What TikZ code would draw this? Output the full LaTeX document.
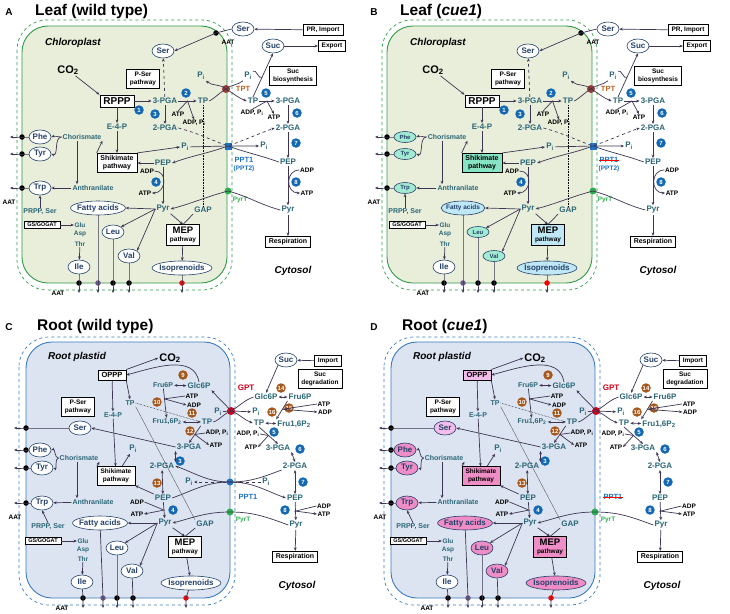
\documentclass[tikz,border=0pt]{standalone}
\usepackage{fontspec}
\setmainfont{Liberation Sans}
\usetikzlibrary{shapes.geometric,arrows.meta,calc}

\definecolor{arcol}{HTML}{3D3552}
\definecolor{metcol}{HTML}{2B6677}
\definecolor{navy}{HTML}{23406A}
\definecolor{leafgreen}{HTML}{2F9A48}
\definecolor{leaffill}{HTML}{E9EEDB}
\definecolor{rootblue}{HTML}{3A7BBF}
\definecolor{rootfill}{HTML}{DCE4F1}
\definecolor{enzblue}{HTML}{1268B3}
\definecolor{enzbrown}{HTML}{A4561B}
\definecolor{tptred}{HTML}{9B3A2E}
\definecolor{tptorange}{HTML}{C0611F}
\definecolor{gptred}{HTML}{D3001B}
\definecolor{pptblue}{HTML}{1F72C4}
\definecolor{pyrtgreen}{HTML}{2EB04F}
\definecolor{fapurple}{HTML}{6A5A8C}
\definecolor{mint}{HTML}{A3EAD3}
\definecolor{mintbox}{HTML}{86E3C4}
\definecolor{skyfill}{HTML}{BFE7F6}
\definecolor{pinkfill}{HTML}{EF8DC6}
\definecolor{palepink}{HTML}{F2BDEB}

\newif\ifpptlost

\tikzset{
  met/.style={font=\bfseries\fontsize{8}{9}\selectfont, text=metcol, inner sep=1pt},
  chorf/.style={font=\bfseries\fontsize{7}{8}\selectfont},
  small/.style={font=\bfseries\fontsize{6.5}{7}\selectfont, inner sep=0.5pt},
  co2/.style={font=\bfseries\fontsize{11}{12}\selectfont, inner sep=1pt},
  pbox/.style={draw=black, fill=white, line width=0.7pt, align=center,
    font=\bfseries\fontsize{6.5}{7.5}\selectfont, inner xsep=3.5pt, inner ysep=2.5pt},
  aa/.style={ellipse, draw=navy, fill=white, line width=0.6pt, text=navy,
    font=\bfseries\fontsize{8}{9}\selectfont, inner xsep=-1.5pt, inner ysep=0pt,
    minimum height=14pt, minimum width=22pt},
  enz/.style={circle, fill=enzblue, text=white, font=\bfseries\fontsize{6}{6}\selectfont,
    inner sep=0pt, minimum size=9.5pt},
  enzb/.style={enz, fill=enzbrown},
  jdot/.style={circle, fill=black, inner sep=0pt, minimum size=5.5pt},
  ar/.style={-{Stealth[length=3.4pt,width=2.8pt]}, draw=arcol, line width=0.7pt},
  dar/.style={{Stealth[length=3.4pt,width=2.8pt]}-{Stealth[length=3.4pt,width=2.8pt]},
    draw=arcol, line width=0.7pt},
  comp/.style={font=\bfseries\itshape\fontsize{10}{11}\selectfont},
  ttl/.style={font=\bfseries\fontsize{15.5}{17}\selectfont, anchor=base west, inner sep=0pt},
  tag/.style={font=\bfseries\fontsize{10}{11}\selectfont, anchor=base, inner sep=0pt},
  aafill/.style={}, fafill/.style={}, isofill/.style={}, shikfill/.style={},
  mepfill/.style={}, serfill/.style={}, opppfill/.style={}
}

% leaf panel, drawn at the place of panel A
\newcommand{\leafpanel}[2]{%
  % envelope (dashed) and stroma
  \draw[leafgreen, dashed, line width=0.7pt, rounded corners=30pt] (17,-20) rectangle (232,-290);
  \draw[leafgreen, fill=leaffill, line width=0.9pt, rounded corners=26pt] (22,-26) rectangle (227,-283);
  \node[tag] (tag) at (9,-16) {#1};
  \node[ttl] (title) at (35,-16) {#2};
  \node[comp] (chl) at (73,-43) {Chloroplast};
  \node[comp] (cyt) at (293,-271) {Cytosol};
  % carbon fixation
  \node[co2] (co2) at (68,-70) {CO\textsubscript{2}};
  \node[pbox, font=\bfseries\fontsize{10}{11}\selectfont] (rppp) at (117,-101) {RPPP};
  \node[pbox] (pser) at (143,-79) {P-Ser\\pathway};
  \node[aa, serfill] (ser) at (163,-51) {Ser};
  \node[met] (pga3) at (165,-101) {3-PGA};
  \node[met] (pga2) at (165,-128) {2-PGA};
  \node[met] (tp) at (203,-101) {TP};
  \node[met] (e4p) at (117,-127) {E-4-P};
  \node[enz] (n1) at (139,-110) {1};
  \node[enz] (n2) at (186,-93) {2};
  \node[enz] (n3) at (155,-114) {3};
  \node[small] (atp2) at (178,-114) {ATP};
  \node[small] (adp2) at (194,-123) {ADP, P\textsubscript{i}};
  % shikimate and amino acids
  \node[pbox, shikfill, font=\bfseries\fontsize{7}{8}\selectfont] (shik) at (117,-163) {Shikimate\\pathway};
  \node[met] (pep) at (163,-163) {PEP};
  \node[met] (pyr) at (163,-209) {Pyr};
  \node[met] (pi) at (185,-147) {P\textsubscript{i}};
  \node[enz] (n4) at (156,-182) {4};
  \node[small] (adp4) at (147,-171) {ADP};
  \node[small] (atp4) at (145,-193) {ATP};
  \node[met, chorf] (chor) at (82,-137) {Chorismate};
  \node[met, chorf] (anth) at (93,-188) {Anthranilate};
  \node[aa, aafill] (phe) at (40,-137) {Phe};
  \node[aa, aafill] (tyr) at (40,-154) {Tyr};
  \node[aa, aafill] (trp) at (40,-188) {Trp};
  \node[met, chorf] (prpp) at (40,-212) {PRPP, Ser};
  \node[pbox, font=\bfseries\fontsize{5.5}{6}\selectfont, inner ysep=1.5pt] (gs) at (42,-225) {GS/GOGAT};
  \node[met, small, text=metcol] (glu) at (80,-225) {Glu};
  \node[met, small, text=metcol] (asp) at (80,-234) {Asp};
  \node[met, small, text=metcol] (thr) at (80,-244) {Thr};
  \node[aa] (ile) at (79,-267) {Ile};
  \node[aa, fafill] (fa) at (98,-208) {Fatty acids};
  \node[aa, aafill] (leu) at (113,-232) {Leu};
  \node[aa, aafill] (val) at (129,-256) {Val};
  \node[pbox, mepfill] (mep) at (183,-235) {{\fontsize{9.5}{10}\selectfont MEP}\\pathway};
  \node[aa, isofill] (iso) at (182,-268) {Isoprenoids};
  \node[met] (gap) at (203,-210) {GAP};
  % transporters
  \node[circle, fill=tptred, minimum size=8pt, inner sep=0pt] (tpt) at (226,-89) {};
  \node[font=\bfseries\fontsize{7.5}{8}\selectfont, text=tptorange] (tpttxt) at (243,-89) {TPT};
  \node[rectangle, fill=pptblue, minimum size=7pt, inner sep=0pt] (ppt) at (228,-146) {};
  \node[font=\bfseries\fontsize{7.5}{8}\selectfont, text=pptblue, inner sep=0.5pt] (ppttxt) at (244,-160) {PPT1};
  \node[small, text=pptblue] (ppt2txt) at (244,-169) {(PPT2)};
  \node[circle, fill=pyrtgreen, minimum size=7pt, inner sep=0pt] (pyrt) at (228,-191) {};
  \node[small, text=pyrtgreen] (pyrttxt) at (240,-200) {PyrT};
  % cytosol
  \node[met] (pipl) at (201,-76) {P\textsubscript{i}};
  \node[met] (pic) at (248,-76) {P\textsubscript{i}};
  \node[met] (tpc) at (253,-101) {TP};
  \node[met] (pga3c) at (288,-101) {3-PGA};
  \node[met] (pga2c) at (288,-128) {2-PGA};
  \node[met] (pepc) at (288,-162) {PEP};
  \node[met] (pyrc) at (288,-210) {Pyr};
  \node[pbox, font=\bfseries\fontsize{7}{8}\selectfont] (resp) at (288,-242) {Respiration};
  \node[aa] (suc) at (273,-46) {Suc};
  \node[pbox] (export) at (332,-46) {Export};
  \node[pbox] (sucbio) at (293,-76) {Suc\\biosynthesis};
  \node[aa] (serc) at (243,-29) {Ser};
  \node[pbox] (pr) at (323,-30) {PR, Import};
  \node[jdot] (daat) at (216,-33) {};
  \node[small] (aattop) at (228,-42) {AAT};
  \node[met] (pipc) at (264,-146) {P\textsubscript{i}};
  \node[enz] (n5) at (266,-93) {5};
  \node[small] (adp5) at (252,-113) {ADP, P\textsubscript{i}};
  \node[small] (atp5) at (274,-117) {ATP};
  \node[enz] (n6) at (297,-113) {6};
  \node[enz] (n7) at (296,-143) {7};
  \node[enz] (n8) at (296,-182) {8};
  \node[small] (adp8) at (307,-170) {ADP};
  \node[small] (atp8) at (307,-193) {ATP};
  % exits through the envelope
  \node[jdot] (dphe) at (22,-137) {};
  \node[jdot] (dtyr) at (22,-154) {};
  \node[jdot] (dtrp) at (22,-188) {};
  \node[small] (aatleft) at (9,-202) {AAT};
  \node[jdot] (dile) at (79,-283) {};
  \node[jdot, fill=fapurple] (dfa) at (98,-283) {};
  \node[jdot] (dleu) at (113,-283) {};
  \node[jdot] (dval) at (129,-283) {};
  \node[jdot, fill=red] (diso) at (182,-283) {};
  \node[small] (aatbot) at (58,-293) {AAT};
  % connectors in the chloroplast
  \draw[ar] (co2) -- (rppp.north west);
  \draw[ar] (rppp) -- (pga3);
  \draw[ar] (rppp) -- (e4p);
  \draw[ar, dashed] (pga3) -- (ser);
  \draw[ar] (pga3) -- (pga2);
  \draw[ar] (pga3) -- (tp);
  \draw[ar] (atp2.north) -- ($(pga3.east)!.5!(tp.west)$) -- (adp2.north);
  \draw[ar] (e4p) -- (shik);
  \draw[ar] (shik.north west) -- (chor.south east);
  \draw[ar] (chor.west) to[out=180,in=20] (phe.east);
  \draw[ar] (chor.west) to[out=180,in=-20] (tyr.east);
  \draw[ar] ([xshift=-5pt]chor.south) -- ([xshift=-16pt]anth.north);
  \draw[ar] (anth) -- (trp);
  \draw[ar] (prpp.north) -- (trp.south);
  \draw[ar] (gs) -- (glu);
  \draw[ar] (thr) -- (ile);
  \draw[ar] (pep) -- (shik);
  \draw[ar] (pep) -- (pyr);
  \draw[ar] (adp4.east) to[out=0,in=0,looseness=1.6] (atp4.east);
  \draw[ar] (pyr.west) -- (fa.east);
  \draw[ar] (pyr.west) -- (leu.north east);
  \draw[ar] (pyr.west) -- (val.north east);
  \draw[ar] (pyr.south east) -- (mep.north);
  \draw[draw=arcol, line width=0.7pt] (gap.south west) -- (mep.north);
  \draw[ar] (mep) -- (iso);
  \draw[ar] (shik.north east) -- (pi.west);
  \draw[densely dotted, line width=0.6pt] (tp) -- (gap);
  % transport across the envelope
  \draw[ar] (pi) -- (ppt) -- (pipc);
  \draw[ar] (pepc.west) to[out=160,in=-20] (ppt.center) to[out=200,in=20] (pep.east);
  \draw[ar, dashed] (pga2.east) to[out=-15,in=160] (ppt.center) to[out=20,in=200] (pga2c.west);
  \draw[ar] (pyrc.west) to[out=165,in=-15] (pyrt.center) to[out=195,in=15] (pyr.east);
  \draw[ar] (tp.east) to[out=30,in=210] (tpt.center) to[out=-30,in=160] (tpc.west);
  \draw[ar] (pic.south west) to[out=220,in=40] (tpt.center) to[out=140,in=-40] (pipl.south east);
  \draw[ar] (serc.west) -- (daat.center) -- (ser.east);
  % cytosol connectors
  \draw[ar] (tpc.north) -- (suc.south);
  \draw[draw=arcol, line width=0.7pt] (pic.north east) to[out=40,in=220] ($(tpc.north)!.45!(suc.south)$);
  \draw[ar] (suc) -- (export);
  \draw[ar] (pr) -- (serc);
  \draw[ar] (tpc) -- (pga3c);
  \draw[ar] (adp5.north) -- ($(tpc.east)!.5!(pga3c.west)$) -- (atp5.north);
  \draw[ar] (pga3c) -- (pga2c);
  \draw[ar] (pga2c) -- (pepc);
  \draw[ar] (pepc) -- (pyrc);
  \draw[ar] (adp8.west) to[out=180,in=180,looseness=1.6] (atp8.west);
  \draw[ar] (pyrc) -- (resp);
  % amino acids leaving the plastid
  \draw[ar] (phe.west) -- (dphe.center) -- ++(-12,0);
  \draw[ar] (tyr.west) -- (dtyr.center) -- ++(-12,0);
  \draw[ar] (trp.west) -- (dtrp.center) -- ++(-12,0);
  \draw[ar] (ile) -- (dile.center) -- ++(0,-10);
  \draw[ar] (fa) -- (dfa.center) -- ++(0,-10);
  \draw[ar] (leu) -- (dleu.center) -- ++(0,-10);
  \draw[ar] (val) -- (dval.center) -- ++(0,-10);
  \draw[ar] (iso) -- (diso.center) -- ++(0,-10);
}

% root panel, drawn at the place of panel C
\newcommand{\rootpanel}[2]{%
  % envelope (dashed) and plastid
  \draw[rootblue, dashed, line width=0.7pt, rounded corners=30pt] (19,-337) rectangle (235,-605);
  \draw[rootblue, fill=rootfill, line width=0.9pt, rounded corners=26pt] (26,-342) rectangle (230,-598);
  \node[tag] (tag) at (9,-330) {#1};
  \node[ttl] (title) at (37,-330) {#2};
  \node[comp] (pla) at (77,-357) {Root plastid};
  \node[comp] (cyt) at (297,-586) {Cytosol};
  % OPPP and glycolysis in the plastid
  \node[co2] (co2) at (170,-358) {CO\textsubscript{2}};
  \node[pbox, opppfill, font=\bfseries\fontsize{7.5}{8}\selectfont] (oppp) at (112,-375) {OPPP};
  \node[met, chorf] (fru6p) at (163,-385) {Fru6P};
  \node[met] (glc6p) at (199,-386) {Glc6P};
  \node[enzb] (n9) at (183,-375) {9};
  \node[met, chorf] (tp) at (130,-403) {TP};
  \node[met, chorf] (e4p) at (113,-415) {E-4-P};
  \node[enzb] (n10) at (157,-402) {10};
  \node[small] (atp10) at (192,-396) {ATP};
  \node[small] (adp10) at (194,-405) {ADP};
  \node[met, chorf] (fbp) at (167,-422) {Fru1,6P\textsubscript{2}};
  \node[enzb] (n11) at (192,-413) {11};
  \node[met] (tp2) at (207,-422) {TP};
  \node[enzb] (n12) at (190,-431) {12};
  \node[small] (adp12) at (217,-433) {ADP, P\textsubscript{i}};
  \node[small] (atp12) at (216,-445) {ATP};
  \node[met] (pga3) at (189,-447) {3-PGA};
  \node[met] (pga2) at (162,-466) {2-PGA};
  \node[enz] (n3) at (180,-461) {3};
  \node[met] (pi) at (133,-449) {P\textsubscript{i}};
  \node[pbox, shikfill] (shik) at (116,-476) {Shikimate\\pathway};
  \node[enzb] (n13) at (157,-483) {13};
  \node[met] (pep) at (163,-498) {PEP};
  \node[small] (adp4) at (137,-502) {ADP};
  \node[small] (atp4) at (137,-514) {ATP};
  \node[enz] (n4) at (173,-510) {4};
  \node[met] (pyr) at (165,-523) {Pyr};
  % amino acids
  \node[met, chorf] (chor) at (79,-458) {Chorismate};
  \node[aa, aafill] (phe) at (40,-450) {Phe};
  \node[aa, aafill] (tyr) at (42,-468) {Tyr};
  \node[aa, serfill] (ser) at (80,-428) {Ser};
  \node[pbox] (pser) at (78,-407) {P-Ser\\pathway};
  \node[aa, aafill] (trp) at (42,-503) {Trp};
  \node[met, chorf] (anth) at (93,-502) {Anthranilate};
  \node[met, chorf] (prpp) at (48,-527) {PRPP, Ser};
  \node[aa, fafill] (fa) at (100,-523) {Fatty acids};
  \node[pbox, font=\bfseries\fontsize{5.5}{6}\selectfont, inner ysep=1.5pt] (gs) at (43,-541) {GS/GOGAT};
  \node[met, small, text=metcol] (glu) at (83,-541) {Glu};
  \node[met, small, text=metcol] (asp) at (83,-550) {Asp};
  \node[met, small, text=metcol] (thr) at (83,-559) {Thr};
  \node[aa, aafill] (leu) at (117,-548) {Leu};
  \node[aa, aafill] (val) at (132,-571) {Val};
  \node[aa] (ile) at (82,-582) {Ile};
  \node[pbox, mepfill] (mep) at (185,-547) {{\fontsize{9.5}{10}\selectfont MEP}\\pathway};
  \node[aa, isofill] (iso) at (191,-583) {Isoprenoids};
  \node[met] (gap) at (205,-524) {GAP};
  % transporters
  \node[circle, fill=gptred, minimum size=8pt, inner sep=0pt] (gpt) at (231,-411) {};
  \node[font=\bfseries\fontsize{8}{9}\selectfont, text=gptred] (gpttxt) at (246,-388) {GPT};
  \node[font=\bfseries\fontsize{7.5}{8}\selectfont, text=pptblue, inner sep=0.5pt] (ppttxt) at (248,-497) {PPT1};
  \node[circle, fill=pyrtgreen, minimum size=7pt, inner sep=0pt] (pyrt) at (230,-512) {};
  \node[small, text=pyrtgreen] (pyrttxt) at (243,-520) {PyrT};
  % cytosol
  \node[aa] (suc) at (286,-360) {Suc};
  \node[pbox] (import) at (328,-361) {Import};
  \node[pbox] (sucdeg) at (320,-379) {Suc\\degradation};
  \node[met] (glc6pc) at (266,-397) {Glc6P};
  \node[met] (fru6pc) at (300,-397) {Fru6P};
  \node[enzb] (n14) at (281,-388) {14};
  \node[enzb] (n15) at (289,-408) {15};
  \node[small] (atp15) at (324,-404) {ATP};
  \node[small] (adp15) at (325,-412) {ADP};
  \node[met] (pipl) at (218,-412) {P\textsubscript{i}};
  \node[met] (pic) at (256,-412) {P\textsubscript{i}};
  \node[met] (tpc) at (259,-423) {TP};
  \node[enzb] (n16) at (272,-412) {16};
  \node[met] (fbpc) at (294,-424) {Fru1,6P\textsubscript{2}};
  \node[enz] (n5) at (274,-432) {5};
  \node[small] (adp5) at (248,-434) {ADP, P\textsubscript{i}};
  \node[small] (atp5) at (251,-447) {ATP};
  \node[met] (pga3c) at (278,-448) {3-PGA};
  \node[enz] (n6) at (300,-449) {6};
  \node[met] (pga2c) at (295,-466) {2-PGA};
  \node[enz] (n7) at (303,-482) {7};
  \node[met] (pepc) at (295,-498) {PEP};
  \node[enz] (n8) at (285,-510) {8};
  \node[small] (adp8) at (324,-506) {ADP};
  \node[small] (atp8) at (324,-514) {ATP};
  \node[met] (pyrc) at (296,-525) {Pyr};
  \node[pbox, font=\bfseries\fontsize{7}{8}\selectfont] (resp) at (295,-557) {Respiration};
  % exits through the envelope
  \node[jdot] (dser) at (26,-428) {};
  \node[jdot] (dphe) at (26,-450) {};
  \node[jdot] (dtyr) at (26,-468) {};
  \node[jdot] (dtrp) at (26,-503) {};
  \node[small] (aatleft) at (15,-517) {AAT};
  \node[jdot] (dile) at (83,-598) {};
  \node[jdot, fill=fapurple] (dfa) at (103,-598) {};
  \node[jdot] (dleu) at (117,-598) {};
  \node[jdot] (dval) at (133,-598) {};
  \node[jdot, fill=red] (diso) at (186,-598) {};
  \node[small] (aatbot) at (62,-608) {AAT};
  % connectors in the plastid
  \draw[ar] (oppp.north east) -- (co2.west);
  \draw[ar] (glc6p.north) to[out=100,in=15] (oppp.east);
  \draw[dar] (fru6p) -- (glc6p);
  \draw[ar] (oppp.south east) -- (tp.north);
  \draw[ar] (oppp) -- (e4p);
  \draw[ar] (fru6p) -- (fbp);
  \draw[draw=arcol, line width=0.7pt] ($(fru6p.south)!.35!(fbp.north)$) -- (atp10.west);
  \draw[ar] ($(fru6p.south)!.35!(fbp.north)$) -- (adp10.west);
  \draw[dar] (fbp) -- (tp2);
  \draw[ar] (tp2.south west) -- (pga3.north);
  \draw[draw=arcol, line width=0.7pt] (adp12.west) -- ($(tp2.south west)!.5!(pga3.north)$);
  \draw[ar] ($(tp2.south west)!.5!(pga3.north)$) -- (atp12.west);
  \draw[dar] (pga3.south west) -- (pga2.north east);
  \draw[dar] (pga2) -- (pep);
  \draw[ar] (pep.north west) -- (shik.south east);
  \draw[ar] (shik) -- (pi);
  \draw[ar] (e4p) -- (shik);
  \draw[ar] (shik.north west) -- (chor.south east);
  \draw[ar] (chor.west) to[out=180,in=20] (phe.east);
  \draw[ar] (chor.west) to[out=180,in=-20] (tyr.east);
  \draw[ar] ([xshift=-2pt]chor.south) -- ([xshift=-16pt]anth.north);
  \draw[ar] (anth) -- (trp);
  \draw[ar] (prpp.north) -- (trp.south);
  \draw[ar] (gs) -- (glu);
  \draw[ar] (thr) -- (ile);
  \draw[ar] (pga3.west) -- (ser.east);
  \draw[densely dotted, line width=0.5pt] (tp.east) -- (tp2.west);
  \draw[gray!70!black, line width=0.4pt] (tp.south east) -- (gap.north west);
  \draw[ar] (pep) -- (pyr);
  \draw[ar] (adp4.east) -- ($(pep.south)!.5!(pyr.north)$) -- (atp4.east);
  \draw[ar] (pyr.west) -- (fa.east);
  \draw[ar] (pyr.west) -- (leu.north east);
  \draw[ar] (pyr.west) -- (val.north east);
  \draw[ar] (pyr.south east) -- (mep.north);
  \draw[draw=arcol, line width=0.7pt] (gap.south west) -- (mep.north);
  \draw[ar] (mep) -- (iso);
  % transport across the envelope
  \draw[ar] (glc6pc.west) to[out=200,in=30] (gpt.center) to[out=130,in=-50] (glc6p.south east);
  \draw[ar] (pipl) -- (gpt) -- (pic);
  \draw[ar] (tp2.east) to[out=20,in=200] (gpt.center) to[out=-20,in=160] (tpc.west);
  \ifpptlost\else
    \node[circle, fill=pptblue, minimum size=7pt, inner sep=0pt] (ppt) at (230,-482) {};
    \node[met] (pic2) at (266,-482) {P\textsubscript{i}};
    \node[met] (pipl2) at (189,-482) {P\textsubscript{i}};
    \draw[ar, dashed] (pic2) -- (ppt) -- (pipl2);
    \draw[ar] (pga2c.south west) to[out=200,in=0] (ppt.center) to[out=180,in=-20] (pga2.east);
    \draw[ar] (pep.east) to[out=20,in=180] (ppt.center) to[out=0,in=160] (pepc.west);
  \fi
  \draw[ar] (pyrc.west) to[out=160,in=0] (pyrt.center) to[out=180,in=15] (pyr.east);
  % cytosol connectors
  \draw[ar] (import) -- (suc);
  \draw[ar] (suc.south west) -- (glc6pc.north);
  \draw[dar] (glc6pc) -- (fru6pc);
  \draw[ar] (fru6pc.south west) -- (fbpc.north west);
  \draw[draw=arcol, line width=0.7pt] ($(fru6pc.south west)!.45!(fbpc.north west)$) -- (atp15.west);
  \draw[ar] ($(fru6pc.south west)!.45!(fbpc.north west)$) -- (adp15.west);
  \draw[dar] (tpc) -- (fbpc);
  \draw[ar] (tpc.south) -- (pga3c.north);
  \draw[draw=arcol, line width=0.7pt] (adp5.east) -- ($(tpc.south)!.5!(pga3c.north)$);
  \draw[ar] ($(tpc.south)!.5!(pga3c.north)$) -- (atp5.east);
  \draw[dar] (pga3c.south east) -- (pga2c.north);
  \draw[dar] (pga2c) -- (pepc);
  \draw[ar] (pepc) -- (pyrc);
  \draw[ar] (adp8.west) -- ($(pepc.south)!.5!(pyrc.north)$) -- (atp8.west);
  \draw[ar] (pyrc) -- (resp);
  % amino acids leaving the plastid
  \draw[ar] (ser.west) -- (dser.center) -- ++(-12,0);
  \draw[ar] (phe.west) -- (dphe.center) -- ++(-12,0);
  \draw[ar] (tyr.west) -- (dtyr.center) -- ++(-12,0);
  \draw[ar] (trp.west) -- (dtrp.center) -- ++(-12,0);
  \draw[ar] (ile) -- (dile.center) -- ++(0,-10);
  \draw[ar] (fa) -- (dfa.center) -- ++(0,-10);
  \draw[ar] (leu) -- (dleu.center) -- ++(0,-10);
  \draw[ar] (val) -- (dval.center) -- ++(0,-10);
  \draw[ar] (iso) -- (diso.center) -- ++(0,-10);
}

\begin{document}
\begin{tikzpicture}[x=1pt, y=1pt]
  \useasboundingbox[fill=white] (0,-613) rectangle (730,0);

  % A: leaf, wild type
  \begin{scope}[name prefix=a-]
    \leafpanel{A}{Leaf (wild type)}
  \end{scope}

  % B: leaf, cue1
  \begin{scope}[shift={(365,0)}, name prefix=b-,
      aafill/.style={fill=mint, font=\bfseries\fontsize{6}{7}\selectfont, minimum height=11pt},
      fafill/.style={fill=skyfill, font=\bfseries\fontsize{6.5}{7}\selectfont},
      isofill/.style={fill=skyfill},
      shikfill/.style={fill=mintbox},
      mepfill/.style={fill=skyfill}]
    \leafpanel{B}{Leaf (\textit{cue1})}
    \draw[red, line width=0.8pt] (ppttxt.west) -- (ppttxt.east);
  \end{scope}

  % C: root, wild type
  \begin{scope}[name prefix=c-]
    \rootpanel{C}{Root (wild type)}
  \end{scope}

  % D: root, cue1
  \begin{scope}[shift={(365,0)}, name prefix=d-,
      aafill/.style={fill=pinkfill}, fafill/.style={fill=pinkfill},
      isofill/.style={fill=pinkfill}, shikfill/.style={fill=pinkfill},
      mepfill/.style={fill=pinkfill}, serfill/.style={fill=palepink},
      opppfill/.style={fill=palepink}]
    \pptlosttrue
    \rootpanel{D}{Root (\textit{cue1})}
    \draw[red, line width=0.8pt] (ppttxt.west) -- (ppttxt.east);
  \end{scope}

\end{tikzpicture}
\end{document}
